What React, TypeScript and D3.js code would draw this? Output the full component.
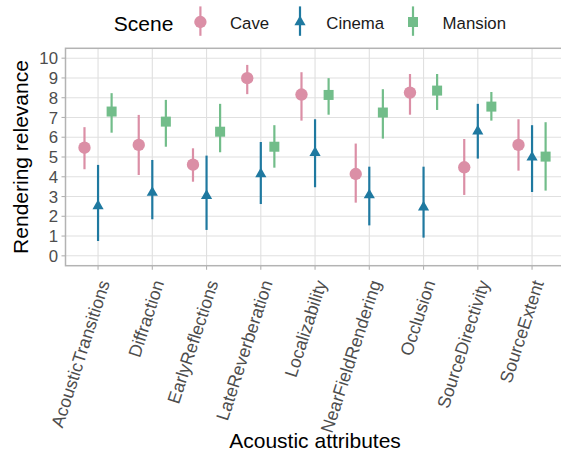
import * as d3 from 'd3'

const ATTRIBUTES = [
  'AcousticTransitions',
  'Diffraction',
  'EarlyReflections',
  'LateReverberation',
  'Localizability',
  'NearFieldRendering',
  'Occlusion',
  'SourceDirectivity',
  'SourceExtent',
]

const SCENES = ['Cave', 'Cinema', 'Mansion']
const Y_TICKS = [0, 1, 2, 3, 4, 5, 6, 7, 8, 9, 10]

const CAVE_MEAN = [5.47, 5.61, 4.61, 8.99, 8.16, 4.14, 8.26, 4.48, 5.61]
const CAVE_LO = [4.38, 4.09, 3.75, 8.18, 6.84, 2.69, 7.14, 3.08, 4.31]
const CAVE_HI = [6.51, 7.13, 5.44, 9.66, 9.29, 5.68, 9.2, 5.91, 6.91]

const CINEMA_MEAN = [2.52, 3.2, 3.04, 4.14, 5.22, 3.07, 2.46, 6.3, 4.98]
const CINEMA_LO = [0.75, 1.85, 1.31, 2.62, 3.47, 1.54, 0.92, 4.92, 3.23]
const CINEMA_HI = [4.6, 4.85, 5.07, 5.76, 6.91, 4.51, 4.51, 7.69, 6.61]

const MANSION_MEAN = [7.3, 6.79, 6.28, 5.52, 8.14, 7.25, 8.36, 7.55, 5.02]
const MANSION_LO = [6.23, 5.52, 5.24, 4.46, 7.14, 5.93, 7.38, 6.84, 3.3]
const MANSION_HI = [8.23, 7.89, 7.69, 6.61, 8.99, 8.43, 9.2, 8.29, 6.76]

const COLORS: Record<string, string> = {
  Cave: '#db8fa6',
  Cinema: '#1f79a0',
  Mansion: '#72bd8a',
}

const SHAPES: Record<string, d3.SymbolType> = {
  Cave: d3.symbolCircle,
  Cinema: d3.symbolTriangle,
  Mansion: d3.symbolSquare,
}
const SIZES: Record<string, number> = { Cave: 120, Cinema: 54, Mansion: 100 }

const series = [
  { scene: 'Cave', mean: CAVE_MEAN, lo: CAVE_LO, hi: CAVE_HI, dodge: -0.25 },
  { scene: 'Cinema', mean: CINEMA_MEAN, lo: CINEMA_LO, hi: CINEMA_HI, dodge: 0 },
  { scene: 'Mansion', mean: MANSION_MEAN, lo: MANSION_LO, hi: MANSION_HI, dodge: 0.25 },
]

const W = 561
const H = 458
const FONT = '"Liberation Sans", Arial, Helvetica, sans-serif'

export default function App() {
  const left = 65.5
  const top = 48.3
  const bottom = 265.7
  const unit = 54.25
  const right = left + 9.2 * unit

  const x = d3.scaleLinear().domain([0.4, 9.6]).range([left, right])
  const y = d3.scaleLinear().domain([-0.5, 10.5]).range([bottom, top])

  const sym = (scene: string) => d3.symbol(SHAPES[scene], SIZES[scene])() || ''

  const legendX: Record<string, number> = { Cave: 200.4, Cinema: 300, Mansion: 413 }
  const legendLabelX: Record<string, number> = { Cave: 230, Cinema: 326.3, Mansion: 442.6 }

  return (
    <svg width={W} height={H} style={{ position: 'absolute', left: 0, top: 0, background: '#fff' }} fontFamily={FONT}>
      <rect width={W} height={H} fill="#fff" />

      {/* grid */}
      {Y_TICKS.map(t => (
        <line key={'gy' + t} x1={left} x2={right} y1={y(t)} y2={y(t)} stroke="#e0e0e0" strokeWidth={1.1} />
      ))}
      {ATTRIBUTES.map((a, i) => (
        <line key={'gx' + a} x1={x(i + 1)} x2={x(i + 1)} y1={top} y2={bottom} stroke="#e0e0e0" strokeWidth={1.1} />
      ))}

      {/* error bars and points */}
      {series.map(s => (
        <g key={s.scene} fill={COLORS[s.scene]} stroke={COLORS[s.scene]}>
          {ATTRIBUTES.map((a, i) => {
            const cx = x(i + 1 + s.dodge)
            return (
              <g key={a}>
                <line x1={cx} x2={cx} y1={y(s.lo[i])} y2={y(s.hi[i])} strokeWidth={2.2} />
                <path d={sym(s.scene)} transform={`translate(${cx},${y(s.mean[i])})`} stroke="none" />
              </g>
            )
          })}
        </g>
      ))}

      {/* panel border */}
      <rect x={left} y={top} width={right - left} height={bottom - top} fill="none" stroke="#b3b3b3" strokeWidth={1.5} />

      {/* y axis */}
      {Y_TICKS.map(t => (
        <g key={'yt' + t}>
          <line x1={left - 4} x2={left} y1={y(t)} y2={y(t)} stroke="#b3b3b3" strokeWidth={1.1} />
          <text x={left - 7.5} y={y(t)} dy="0.36em" textAnchor="end" fontSize={16.8} fill="#4d4d4d">{t}</text>
        </g>
      ))}

      {/* x axis */}
      {ATTRIBUTES.map((a, i) => (
        <g key={'xt' + a}>
          <line x1={x(i + 1)} x2={x(i + 1)} y1={bottom} y2={bottom + 4} stroke="#b3b3b3" strokeWidth={1.1} />
          <text
            transform={`translate(${x(i + 1) + 12},${bottom + 17}) rotate(-72)`}
            textAnchor="end"
            fontSize={17.8}
            fill="#4d4d4d"
          >{a}</text>
        </g>
      ))}

      {/* titles */}
      <text x={(left + right) / 2} y={448} textAnchor="middle" fontSize={21}>Acoustic attributes</text>
      <text transform={`translate(27.5,${(top + bottom) / 2}) rotate(-90)`} textAnchor="middle" fontSize={21}>Rendering relevance</text>

      {/* legend */}
      <text x={113.8} y={30.5} fontSize={21}>Scene</text>
      {SCENES.map(sc => (
        <g key={'lg' + sc} fill={COLORS[sc]} stroke={COLORS[sc]}>
          <line x1={legendX[sc]} x2={legendX[sc]} y1={6.4} y2={35.8} strokeWidth={2.2} />
          <path d={sym(sc)} transform={`translate(${legendX[sc]},22)`} stroke="none" />
          <text x={legendLabelX[sc]} y={28.5} fontSize={16.8} fill="#1a1a1a" stroke="none">{sc}</text>
        </g>
      ))}
    </svg>
  )
}
